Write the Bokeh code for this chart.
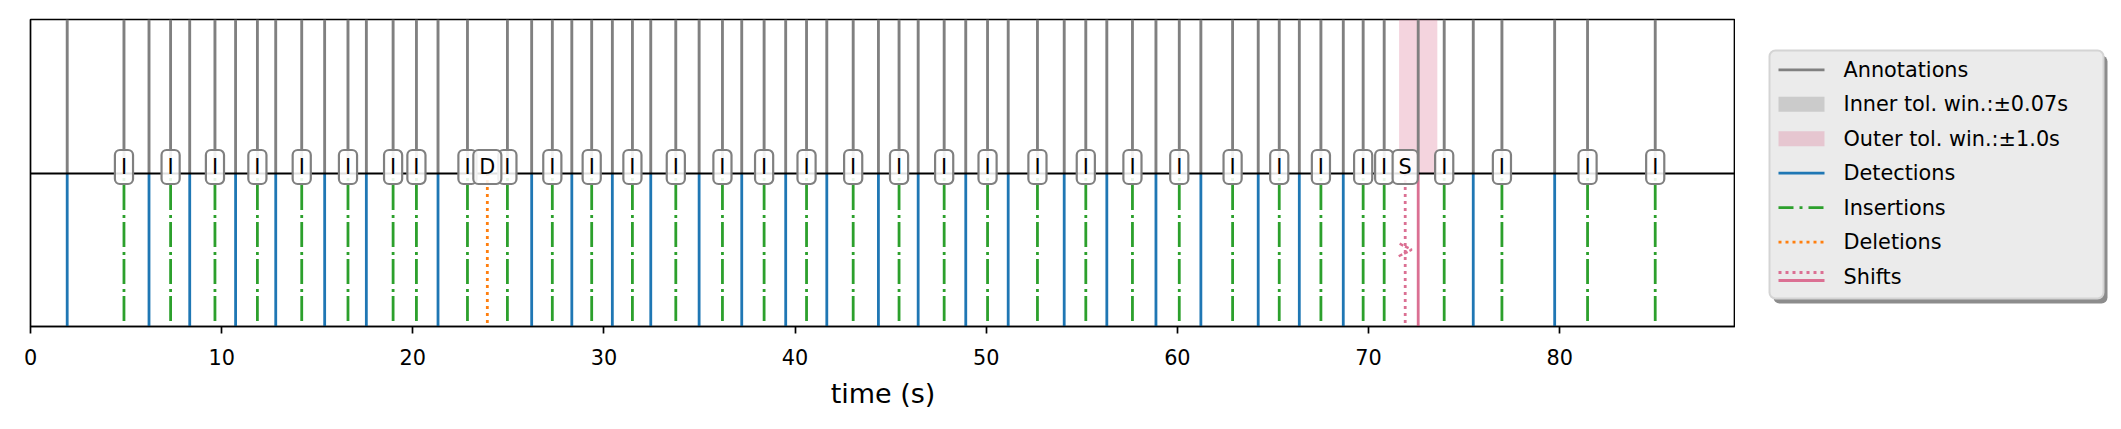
from bokeh.plotting import figure
from bokeh.layouts import row
from bokeh.models import Range1d, FixedTicker, Arrow, OpenHead
from bokeh.embed import file_html
from bokeh.resources import INLINE
from bokeh.core.properties import value

# ---------------- data (seconds) ----------------
annotations = [1.92, 4.89, 6.20, 7.33, 8.33, 9.65, 10.73, 11.87, 12.83, 14.19, 15.39,
               16.61, 17.57, 18.97, 20.19, 21.32, 22.86, 24.95, 26.22, 27.30, 28.32,
               29.36, 30.44, 31.49, 32.45, 33.76, 34.98, 36.20, 37.21, 38.38, 39.51,
               40.60, 41.66, 43.04, 44.36, 45.44, 46.44, 47.80, 48.93, 50.07, 51.15,
               52.68, 54.08, 55.21, 56.31, 57.65, 58.88, 60.10, 61.23, 62.89, 64.23,
               65.33, 66.38, 67.51, 68.68, 69.72, 70.82, 72.60, 73.96, 75.48, 76.98,
               79.74, 81.46, 85.00]
detections = [1.92, 6.20, 8.33, 10.73, 12.83, 15.39, 17.57, 21.32, 26.22, 28.32, 30.44,
              32.45, 34.98, 37.21, 39.51, 41.66, 44.36, 46.44, 48.93, 51.15, 54.08,
              56.31, 58.88, 61.23, 64.23, 66.38, 68.68, 75.48, 79.74]
insertions = [4.89, 7.33, 9.65, 11.87, 14.19, 16.61, 18.97, 20.19, 22.86, 24.95, 27.30,
              29.36, 31.49, 33.76, 36.20, 38.38, 40.60, 43.04, 45.44, 47.80, 50.07,
              52.68, 55.21, 57.65, 60.10, 62.89, 65.33, 67.51, 69.72, 70.82, 73.96,
              76.98, 81.46, 85.00]
deletions = [23.90]
shift_detections = [71.92]
shift_annotations = [72.60]
inner_tol = 0.07
outer_tol = 1.0
x_ticks = [0, 10, 20, 30, 40, 50, 60, 70, 80]
x_max = 89.2

legend_labels = ["Annotations", "Inner tol. win.:\u00b10.07s", "Outer tol. win.:\u00b11.0s",
                 "Detections", "Insertions", "Deletions", "Shifts"]

FONT = "DejaVu Sans"
GRAY = "#808080"
BLUE = "#1f77b4"
GREEN = "#2ca02c"
ORANGE = "#ff7f0e"
PINK = "#db7093"

H = 421
TOP, BOTTOM = 19, 95

# ---------------- main plot ----------------
p = figure(width=1735, height=H, x_range=Range1d(0, x_max), y_range=Range1d(-1, 1),
           output_backend="svg", toolbar_location=None, y_axis_location=None,
           min_border_left=30, min_border_right=0, min_border_top=TOP, min_border_bottom=BOTTOM)
p.grid.visible = False
p.outline_line_color = "black"
p.outline_line_width = 1.7
p.background_fill_color = "white"
p.border_fill_color = "white"

ax = p.xaxis[0]
ax.ticker = FixedTicker(ticks=x_ticks)
ax.minor_tick_line_color = None
ax.major_tick_out = 7
ax.major_tick_in = 0
ax.major_tick_line_width = 1.7
ax.axis_line_width = 1.7
ax.major_label_text_font = FONT
ax.major_label_text_font_size = "20.8px"
ax.major_label_text_color = "black"
ax.major_label_standoff = 15
ax.axis_label = "time (s)"
ax.axis_label_text_font = FONT
ax.axis_label_text_font_size = "27px"
ax.axis_label_text_font_style = "normal"
ax.axis_label_text_color = "black"
ax.axis_label_standoff = 10

# tolerance windows
p.quad(left=[a - inner_tol for a in annotations], right=[a + inner_tol for a in annotations],
       bottom=0, top=1, fill_color=GRAY, fill_alpha=0.3, line_color=None)
p.quad(left=[a - outer_tol for a in shift_annotations], right=[a + outer_tol for a in shift_annotations],
       bottom=0, top=1, fill_color=PINK, fill_alpha=0.3, line_color=None)

# annotations (upper half)
p.segment(x0=annotations, x1=annotations, y0=0, y1=1, line_color=GRAY, line_width=2.8)
# detections (lower half)
p.segment(x0=detections, x1=detections, y0=0, y1=-1, line_color=BLUE, line_width=2.8)
p.segment(x0=insertions, x1=insertions, y0=0, y1=-1, line_color=GREEN, line_width=2.8,
          line_dash="25 5 3 4", line_dash_offset=25)
p.segment(x0=deletions, x1=deletions, y0=0, y1=-1, line_color=ORANGE, line_width=2.8,
          line_dash="3 4")
p.segment(x0=shift_detections, x1=shift_detections, y0=0, y1=-1, line_color=PINK, line_width=2.8,
          line_dash="3 4")
p.segment(x0=shift_annotations, x1=shift_annotations, y0=0, y1=-1, line_color=PINK, line_width=2.8)

# zero line
p.hspan(y=[0], line_color="black", line_width=2)

# shift arrows
for d, a in zip(shift_detections, shift_annotations):
    p.add_layout(Arrow(x_start=d, y_start=-0.5, x_end=(d + a) / 2, y_end=-0.5, line_alpha=0,
                       end=OpenHead(size=13, line_color=PINK, line_width=2.5, line_dash="4 2")))

# labels
lab_x = insertions + deletions + shift_detections
lab_t = ["I"] * len(insertions) + ["D"] * len(deletions) + ["S"] * len(shift_detections)
p.text(x=lab_x, y=[0] * len(lab_x), text=lab_t, text_font=value(FONT), text_font_size="20.8px",
       text_align="center", text_baseline="alphabetic", text_color="black", y_offset=-6,
       background_fill_color="white", background_fill_alpha=0.88,
       border_line_color=GRAY, border_line_width=2.2, border_radius=5, padding=(6, 5))

# ---------------- legend panel (coordinates = page pixels) ----------------
lf = figure(width=378, height=H, x_range=Range1d(0, 378), y_range=Range1d(H - BOTTOM, TOP),
            output_backend="svg", toolbar_location=None, x_axis_location=None,
            y_axis_location=None, min_border_left=0, min_border_right=0,
            min_border_top=TOP, min_border_bottom=BOTTOM, outline_line_color=None)
lf.grid.visible = False
lf.background_fill_color = "white"
lf.border_fill_color = "white"

bx0, bx1, by0, by1 = 34, 368, 50, 298
lf.quad(left=[bx0 + 4], right=[bx1 + 4], top=[by0 + 5], bottom=[by1 + 5],
        fill_color="#8c8c8c", line_color=None, border_radius=6)
lf.quad(left=[bx0], right=[bx1], top=[by0], bottom=[by1],
        fill_color="#ebebeb", line_color="#d4d4d4", line_width=2, border_radius=6)

ys = [69.3 + 34.45 * i for i in range(len(legend_labels))]
hx0, hx1 = 43, 89
lf.segment(x0=[hx0], x1=[hx1], y0=[ys[0]], y1=[ys[0]], line_color=GRAY, line_width=2.8)
lf.quad(left=[hx0], right=[hx1], top=[ys[1] - 7.5], bottom=[ys[1] + 7.5],
        fill_color=GRAY, fill_alpha=0.3, line_color=None)
lf.quad(left=[hx0], right=[hx1], top=[ys[2] - 7.5], bottom=[ys[2] + 7.5],
        fill_color=PINK, fill_alpha=0.3, line_color=None)
lf.segment(x0=[hx0], x1=[hx1], y0=[ys[3]], y1=[ys[3]], line_color=BLUE, line_width=2.8)
lf.segment(x0=[hx0], x1=[hx1], y0=[ys[4]], y1=[ys[4]], line_color=GREEN, line_width=2.8,
           line_dash="15 6 3 6")
lf.segment(x0=[hx0], x1=[hx1], y0=[ys[5]], y1=[ys[5]], line_color=ORANGE, line_width=2.8,
           line_dash="3 4")
lf.segment(x0=[hx0], x1=[hx1], y0=[ys[6] - 4], y1=[ys[6] - 4], line_color=PINK, line_width=2.8,
           line_dash="3 4")
lf.segment(x0=[hx0], x1=[hx1], y0=[ys[6] + 4], y1=[ys[6] + 4], line_color=PINK, line_width=2.8)
lf.text(x=[108] * len(legend_labels), y=ys, text=legend_labels, text_font=value(FONT),
        text_font_size="20.8px", text_baseline="middle", text_align="left", text_color="black")

layout = row(p, lf)
open("out.html", "w").write(file_html(layout, INLINE))
